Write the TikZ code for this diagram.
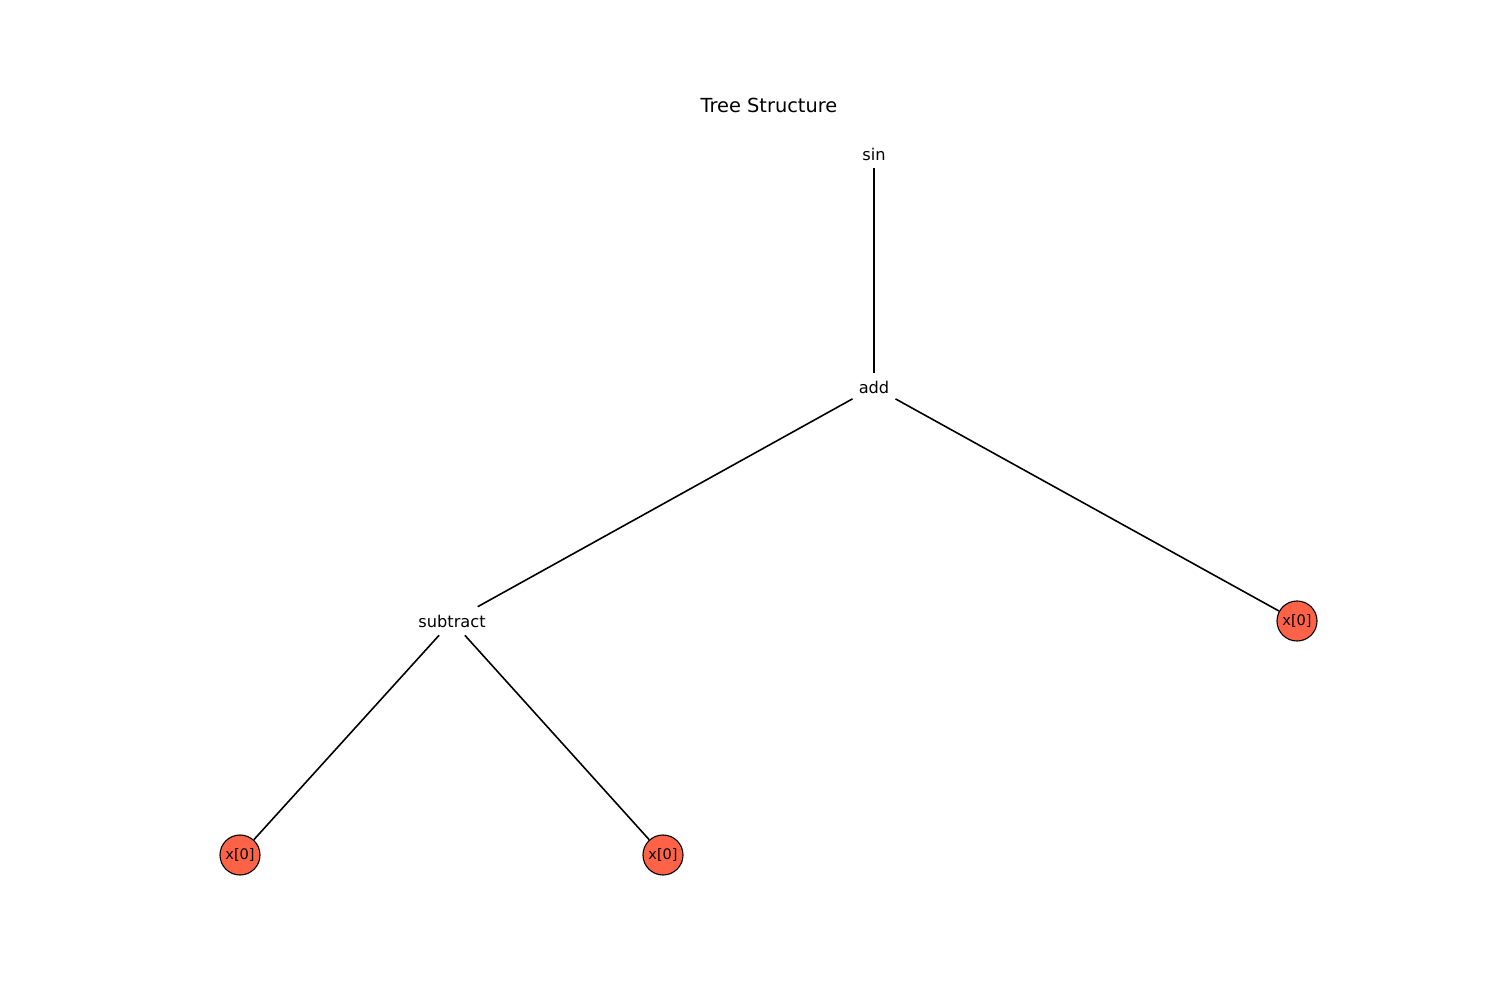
\documentclass[tikz,border=0pt]{standalone}
\usepackage{fontspec}
\setmainfont{DejaVu Sans}
\definecolor{tomato}{HTML}{FF6347}
\begin{document}
\begin{tikzpicture}[x=0.01in,y=-0.01in,
	op/.style={rectangle,fill=white,inner xsep=0.06in,minimum height=0.28in,font=\fontsize{11.7}{14}\selectfont},
	leaf/.style={draw,circle,fill=tomato,line width=0.8pt,minimum size=0.4in,inner sep=0pt,font=\fontsize{10.5}{13}\selectfont}]
		\useasboundingbox (0,0) rectangle (1500,1000);
		\node (title) at (769,105){\fontsize{14}{17}\selectfont Tree Structure};
		% \foreach \i in {0,1,2}{
		% 	\node[leaf] (x\i) at (240+423*\i,855){x[0]};
		% 	}
		\node[op] (sin) at (874,154){sin};
		\node[op] (add) at (874,387){add};
		\node[op] (sub) at (452,621){subtract};
		\node[leaf] (x2) at (1297,621){x[0]};
		\node[leaf] (x0) at (240,855){x[0]};
		\node[leaf] (x1) at (663,855){x[0]};
		\begin{scope}[line width=1.15pt]
		\draw (sin)--(add);
		\draw (add)--(sub);
		\draw (add)--(x2);
		\draw (sub)--(x0);
		\draw (sub)--(x1);
		\end{scope}
		\end{tikzpicture}
\end{document}
